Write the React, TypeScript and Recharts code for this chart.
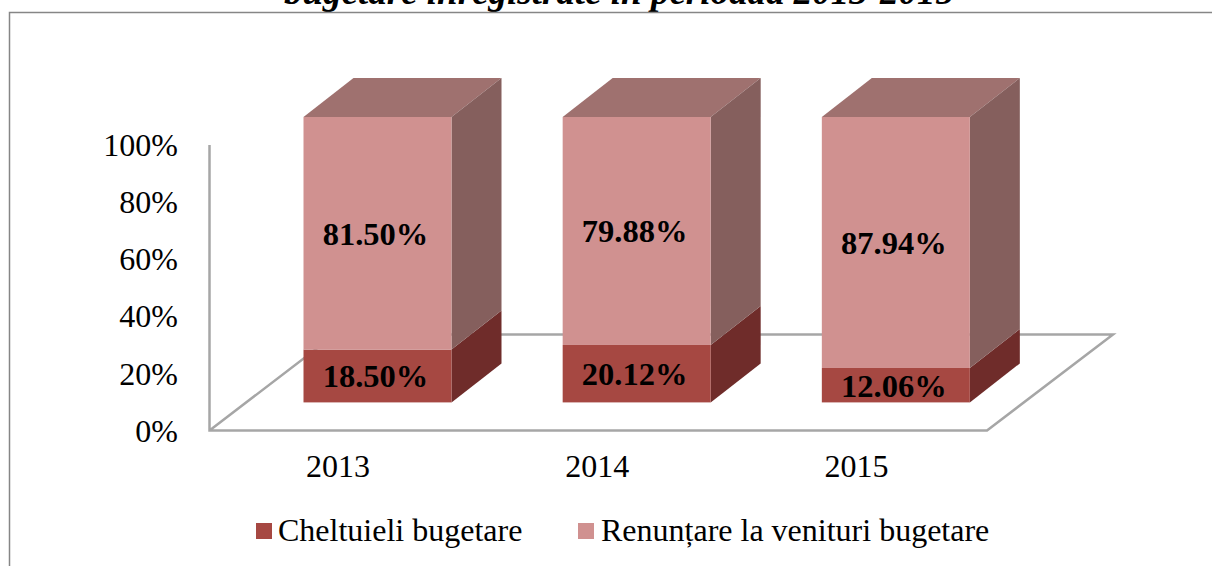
import React from "react";
import { BarChart, Bar, XAxis, YAxis, Legend, LabelList, Customized } from "recharts";

const years = ["2013", "2014", "2015"];
const cheltuieli = [18.5, 20.12, 12.06];
const renuntare = [81.5, 79.88, 87.94];
const yTicks = [0, 20, 40, 60, 80, 100];
const seriesNames = ["Cheltuieli bugetare", "Renunțare la venituri bugetare"];
const titleText = "bugetare înregistrate în perioada 2013-2015";

const rows = years.map((year, i) => ({ year, cheltuieli: cheltuieli[i], renuntare: renuntare[i] }));

const FONT = '"Liberation Serif", serif';
const DX = 50;
const DY = 39;
const W = 1212;
const H = 566;

const Box = (props: any) => {
  const { x, y, width, height, fill, side, top } = props;
  const r = x + width;
  const b = y + height;
  return (
    <g>
      <polygon points={`${x},${y} ${r},${y} ${r + DX},${y - DY} ${x + DX},${y - DY}`} fill={top} />
      <polygon points={`${r},${y} ${r + DX},${y - DY} ${r + DX},${b - DY} ${r},${b}`} fill={side} />
      <rect x={x} y={y} width={width} height={height} fill={fill} />
    </g>
  );
};

const LowerBox = (props: any) => <Box {...props} side="#6F2C2A" top="none" />;
const UpperBox = (props: any) => <Box {...props} side="#855F5D" top="#9F716F" />;

const Scenery = () => {
  const stroke = "#A6A6A6";
  return (
    <g>
      <text x={619} y={4} textAnchor="middle" fontFamily={FONT} fontWeight="bold" fontStyle="italic" fontSize={37} fill="#000">
        {titleText}
      </text>
      <path d={`M9.5 ${H} L9.5 12.5 L${W} 12.5`} fill="none" stroke="#868686" strokeWidth={1.5} />
      <path d="M209.5 145 L209.5 430.5 L987 430.5 L1113 334.5 L335 334.5 L209.5 430.5" fill="none" stroke={stroke} strokeWidth={2.5} />
    </g>
  );
};

const YTick = ({ y, payload }: any) => (
  <text x={178} y={y + 28} dy="0.35em" textAnchor="end" fontFamily={FONT} fontSize={32} fill="#000">
    {payload.value}%
  </text>
);

const XTick = ({ x, payload }: any) => (
  <text x={x - 39} y={466} dy="0.35em" textAnchor="middle" fontFamily={FONT} fontSize={32} fill="#000">
    {payload.value}
  </text>
);

const BarLabel = ({ x, y, width, height, value }: any) => (
  <text x={x + width / 2 - 2} y={y + height / 2} dy="0.35em" textAnchor="middle" fontFamily={FONT} fontWeight="bold" fontSize={32.5} fill="#000">
    {Number(value).toFixed(2)}%
  </text>
);

const LegendBody = ({ payload }: any) => {
  const swatchX = [256, 578];
  const textX = [278, 601];
  return (
    <div style={{ position: "relative", width: W, height: 40 }}>
      {(payload || []).map((p: any, i: number) => (
        <React.Fragment key={p.value}>
          <span style={{ position: "absolute", left: swatchX[i], top: 8, width: 16, height: 16, background: p.color }} />
          <span style={{ position: "absolute", left: textX[i], top: -2, fontFamily: FONT, fontSize: 32, lineHeight: "34px", color: "#000", whiteSpace: "nowrap" }}>
            {p.value}
          </span>
        </React.Fragment>
      ))}
    </div>
  );
};

export default function App() {
  return (
    <div style={{ position: "absolute", left: 0, top: 0, width: W, height: H, overflow: "hidden", background: "#fff" }}>
      <BarChart
        width={W}
        height={H}
        data={rows}
        margin={{ top: 117, right: 187, bottom: 93.6, left: 187.5 }}
        style={{ overflow: "visible" }}
      >
        <Customized component={Scenery} />
        <XAxis dataKey="year" axisLine={false} tickLine={false} tick={<XTick />} interval={0} />
        <YAxis width={60} domain={[0, 100]} ticks={yTicks} axisLine={false} tickLine={false} tick={<YTick />} interval={0} />
        <Legend
          content={<LegendBody />}
          wrapperStyle={{ position: "absolute", left: 0, top: 515, width: W, height: 40 }}
        />
        <Bar dataKey="cheltuieli" name={seriesNames[0]} stackId="a" fill="#A64842" barSize={148} shape={<LowerBox />} isAnimationActive={false}>
          <LabelList dataKey="cheltuieli" content={<BarLabel />} />
        </Bar>
        <Bar dataKey="renuntare" name={seriesNames[1]} stackId="a" fill="#D09190" barSize={148} shape={<UpperBox />} isAnimationActive={false}>
          <LabelList dataKey="renuntare" content={<BarLabel />} />
        </Bar>
      </BarChart>
    </div>
  );
}
